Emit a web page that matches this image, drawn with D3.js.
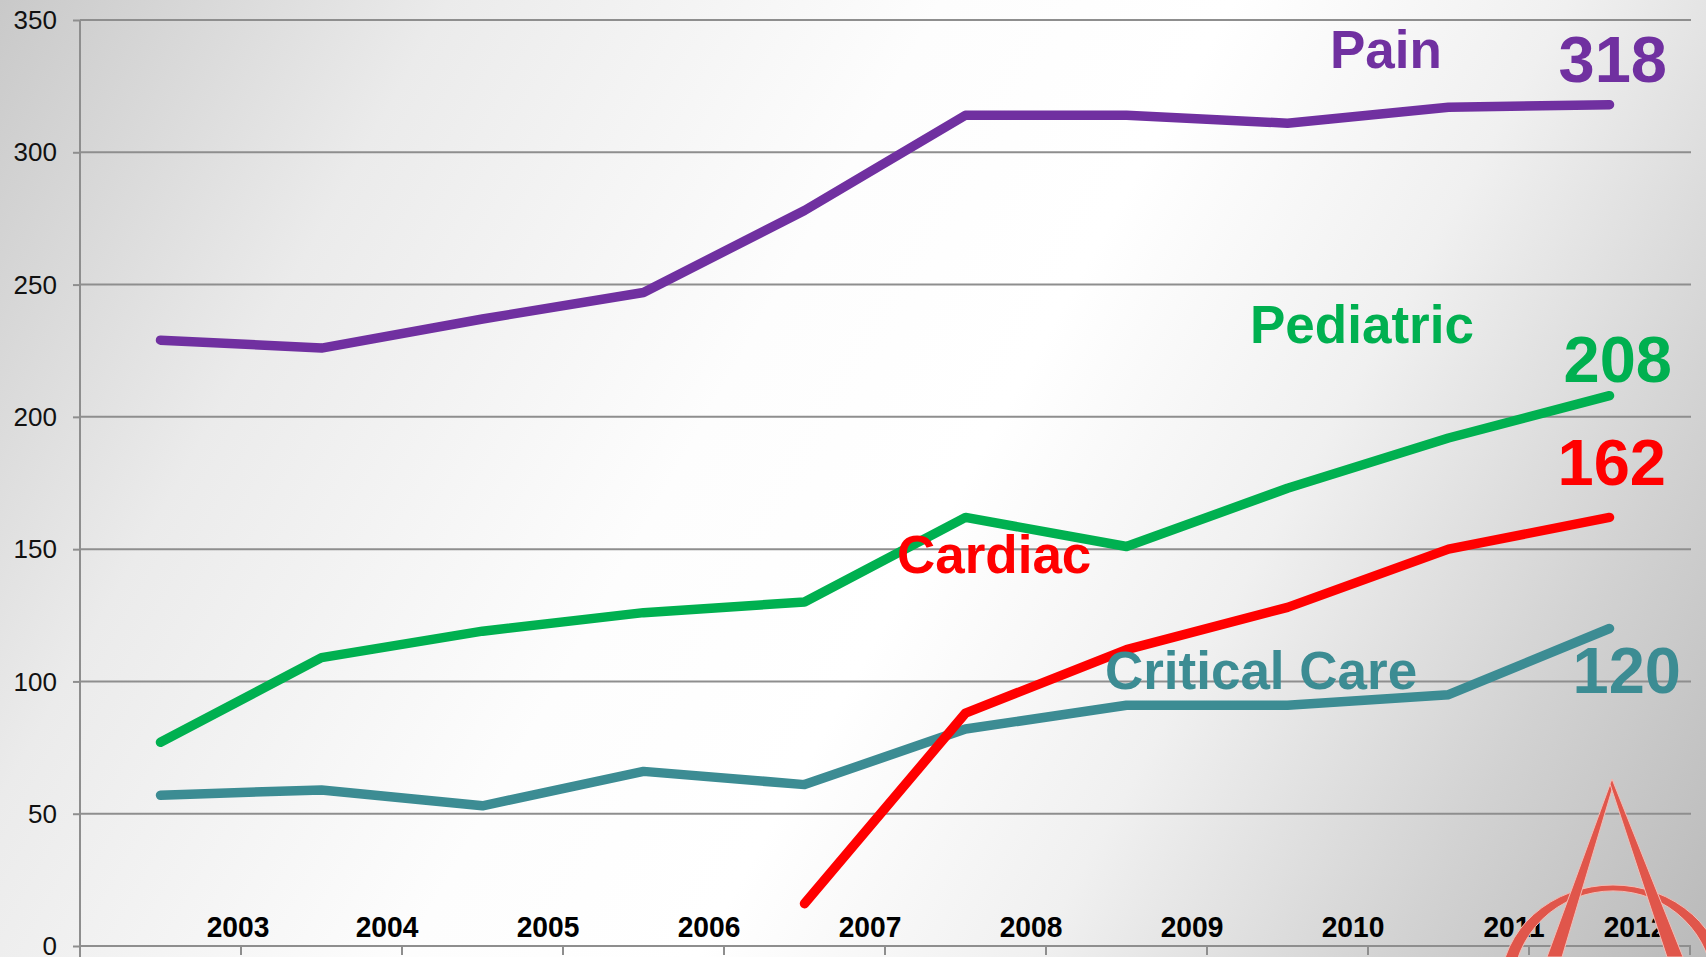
<!DOCTYPE html>
<html>
<head>
<meta charset="utf-8">
<script src="https://cdn.jsdelivr.net/npm/d3@7"></script>
<style>
  html, body { margin: 0; padding: 0; background: #fff; }
  svg { display: block; }
</style>
</head>
<body>
<svg id="chart" width="1706" height="957"></svg>
<script>
// ---------- DATA ----------
const years = ["2003","2004","2005","2006","2007","2008","2009","2010","2011","2012"];
const painValues      = [229, 226, 237, 247, 278, 314, 314, 311, 317, 318];
const pediatricValues = [77, 109, 119, 126, 130, 162, 151, 173, 192, 208];
const cardiacValues   = [null, null, null, null, 16, 88, 112, 128, 150, 162];
const criticalValues  = [57, 59, 53, 66, 61, 82, 91, 91, 95, 120];
const yTickValues = [0, 50, 100, 150, 200, 250, 300, 350];

const seriesNames  = ["Critical Care", "Pediatric", "Cardiac", "Pain"];
const seriesColors = ["#3C8C93", "#00B050", "#FF0000", "#7030A0"];
const seriesData   = [criticalValues, pediatricValues, cardiacValues, painValues];

// annotation anchors in data space (category index, value)
const nameLabelPos  = [[5.866, 97.2], [6.767, 227.9], [4.574, 141.0], [7.264, 331.8]];
const valueLabelPos = [[9.444, 95.6], [9.388, 213.2], [9.351, 174.2], [9.357, 326.5]];

// ---------- LAYOUT ----------
const W = 1706, H = 957;
const plot = { left: 80, right: 1690, top: 20, bottom: 946 };
const font = "'Liberation Sans', Arial, Helvetica, sans-serif";

const svg = d3.select("#chart");

// background gradient
const defs = svg.append("defs");
const grad = defs.append("linearGradient").attr("id", "bg")
  .attr("gradientUnits", "userSpaceOnUse")
  .attr("x1", 0).attr("y1", 0).attr("x2", W).attr("y2", H);
[[0, "#c9c9c9"], [0.2, "#ebebeb"], [0.42, "#fdfdfd"], [0.55, "#ffffff"],
 [0.7, "#f0f0f0"], [0.86, "#d2d2d2"], [1, "#bababa"]].forEach(([o, c]) =>
  grad.append("stop").attr("offset", o).attr("stop-color", c));
svg.append("rect").attr("width", W).attr("height", H).attr("fill", "url(#bg)");

const x = d3.scaleBand().domain(years).range([plot.left, plot.right]).paddingInner(0).paddingOuter(0);
const bw = x.bandwidth();
const xi = d3.scaleLinear().domain([0, years.length - 1])
  .range([x(years[0]) + bw / 2, x(years[years.length - 1]) + bw / 2]);
const y = d3.scaleLinear().domain([0, 350]).range([plot.bottom, plot.top]);

const gridColor = "#8e8e8e";

// gridlines
svg.append("g").selectAll("line").data(yTickValues).join("line")
  .attr("x1", plot.left).attr("x2", plot.right + 1)
  .attr("y1", d => y(d)).attr("y2", d => y(d))
  .attr("stroke", gridColor).attr("stroke-width", 2);

// y axis
const yAxis = svg.append("g").attr("transform", `translate(${plot.left},0)`)
  .call(d3.axisLeft(y).tickValues(yTickValues).tickSize(7).tickPadding(16).tickFormat(d3.format("d")));
yAxis.select(".domain").attr("stroke", gridColor).attr("stroke-width", 2)
  .attr("d", `M0,${plot.top}V${H}`);
yAxis.selectAll(".tick line").attr("stroke", gridColor).attr("stroke-width", 2);
yAxis.selectAll(".tick text").attr("font-family", font).attr("font-size", 26)
  .attr("fill", "#111").attr("dy", "0.33em");

// x axis ticks at band boundaries
svg.append("g").selectAll("line").data(years).join("line")
  .attr("x1", d => x(d) + bw).attr("x2", d => x(d) + bw)
  .attr("y1", plot.bottom).attr("y2", plot.bottom + 9)
  .attr("stroke", gridColor).attr("stroke-width", 2);

// x labels
svg.append("g").selectAll("text").data(years).join("text")
  .attr("transform", (d, i) => {
    const cx = Math.min(x(d) + bw - (i === 0 ? 3 : 15), plot.right - 55);
    return `translate(${cx},937) scale(0.94,1)`;
  })
  .attr("text-anchor", "middle")
  .attr("font-family", font).attr("font-weight", "bold").attr("font-size", 30)
  .attr("fill", "#000")
  .text(d => d);

// lines
const line = d3.line()
  .defined(d => d != null)
  .x((d, i) => x(years[i]) + bw / 2)
  .y(d => y(d));

const order = [0, 2, 1, 3];
svg.append("g").selectAll("path").data(order).join("path")
  .attr("d", k => line(seriesData[k]))
  .attr("fill", "none")
  .attr("stroke", k => seriesColors[k])
  .attr("stroke-width", 9.5)
  .attr("stroke-linecap", "round")
  .attr("stroke-linejoin", "round");

// name labels
svg.append("g").selectAll("text").data(seriesNames).join("text")
  .attr("x", (d, k) => xi(nameLabelPos[k][0]))
  .attr("y", (d, k) => y(nameLabelPos[k][1]))
  .attr("font-family", font).attr("font-weight", "bold").attr("font-size", 53)
  .attr("fill", (d, k) => seriesColors[k])
  .text(d => d);

// value labels (last value)
svg.append("g").selectAll("text").data(seriesData).join("text")
  .attr("x", (d, k) => xi(valueLabelPos[k][0]))
  .attr("y", (d, k) => y(valueLabelPos[k][1]))
  .attr("text-anchor", "end")
  .attr("font-family", font).attr("font-weight", "bold").attr("font-size", 65)
  .attr("fill", (d, k) => seriesColors[k])
  .text(d => d[d.length - 1]);

// decorative logo (bottom right)
const logo = svg.append("g").attr("fill", "#E0564B").attr("stroke", "#f2bdb6").attr("stroke-width", 1);
logo.append("path").attr("fill-rule", "evenodd").attr("d",
  "M1501,985 a112,100 0 1,0 224,0 a112,100 0 1,0 -224,0 Z " +
  "M1513,988 a100,97 0 1,0 200,0 a100,97 0 1,0 -200,0 Z");
logo.append("path").attr("d", "M1612,779 L1614,783 L1562,957 L1547,957 Z");
logo.append("path").attr("d", "M1612,779 L1610,784 L1667,957 L1683,957 Z");
</script>
</body>
</html>
